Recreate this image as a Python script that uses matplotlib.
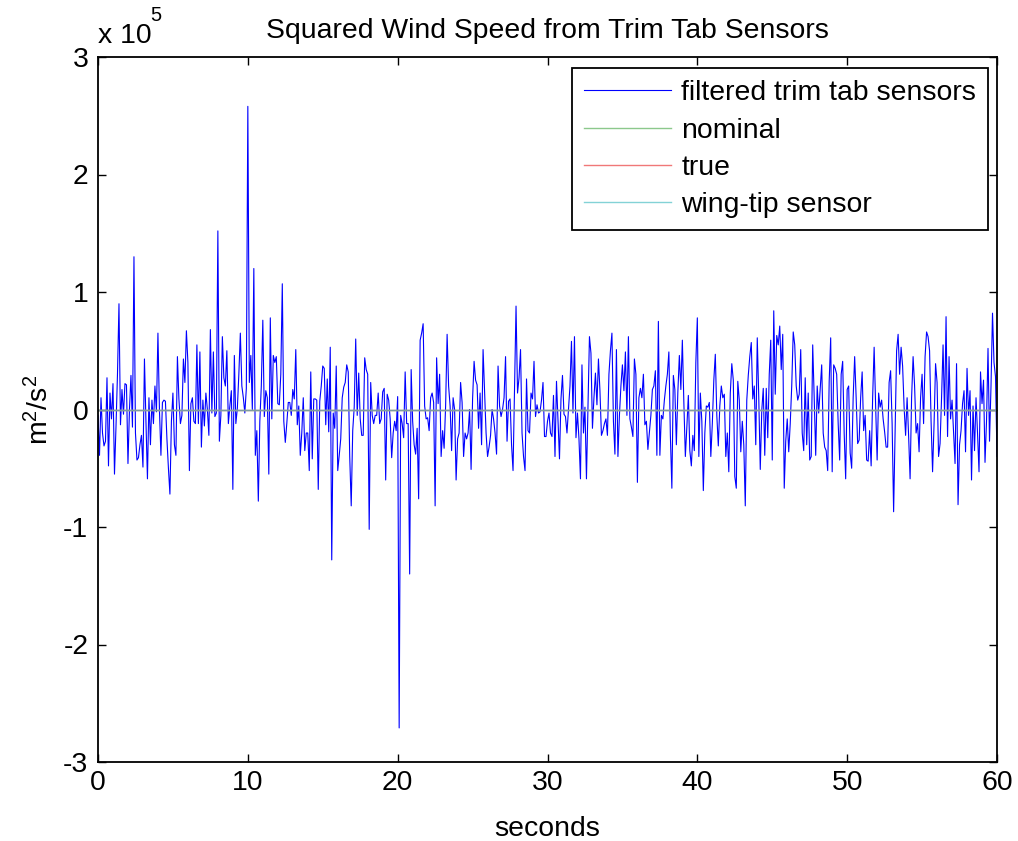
import numpy as np
import matplotlib
matplotlib.use("Agg")
import matplotlib.pyplot as plt
from matplotlib.ticker import FuncFormatter, FixedLocator

plt.rcParams['font.family'] = ['Liberation Sans', 'DejaVu Sans']
plt.rcParams['mathtext.fontset'] = 'custom'
plt.rcParams['mathtext.rm'] = 'Liberation Sans'
plt.rcParams['mathtext.it'] = 'Liberation Sans:italic'
plt.rcParams['axes.unicode_minus'] = False

# ---- data -------------------------------------------------------------
t_start, t_end = 0.0, 60.0

# filtered squared wind speed from the trim tab sensors,
# in thousands of m^2/s^2, sampled every 0.1 s from 0 to 60 s
filtered_k = [
    # 0 - 5.9 s
    -5, -39, 10, -20, -31, -27, 27, -48, 14, -8,
    22, -55, -15, 30, 90, -13, 17, -4, 22, 21,
    -46, 0, 29, -15, 130, -20, -43, -41, -30, -22,
    -49, 43, -10, -59, 10, -30, 8, -12, 20, -2,
    65, 0, -39, 6, 8, 7, -25, -50, -72, -10,
    14, -30, -39, 45, 9, -12, -5, 43, 23, 67,
    # 6 - 11.9 s
    40, -52, 5, 10, -10, -12, 55, -12, 49, -32,
    8, -14, 14, 0, -22, 68, -3, 49, -6, -3,
    152, -27, -5, 62, 27, 20, 50, -12, 3, 16,
    -68, 46, -12, 1, 30, 65, 20, 10, -3, 18,
    258, 23, 46, 0, 120, -39, -18, -78, -10, 20,
    76, -6, 16, 10, -55, 78, -8, 46, 40, 45,
    # 12 - 17.9 s
    5, 4, 30, 107, -10, -28, -12, 6, 6, -5,
    17, 9, 51, -13, 3, -39, -20, 10, -35, -20,
    -20, -52, 32, -42, 9, 9, 8, -68, 7, 20,
    37, 35, -13, 26, -19, 53, -128, -3, -16, 37,
    -52, -39, -25, 10, 19, 23, 38, 32, -40, -82,
    -18, 2, 60, -5, 31, -8, -22, -22, 44, 34,
    # 18 - 23.9 s
    30, -102, 23, -5, -12, -5, -5, 14, -12, -8,
    15, 18, -60, 13, 8, -8, -41, -20, -10, -18,
    11, -271, -5, -12, -24, 32, -12, -12, -140, 34,
    -10, -30, -38, -16, -76, 59, 65, 73, 3, -8,
    -7, -18, 10, 14, 6, -82, 44, 5, 30, -40,
    -18, -33, 3, 64, 20, 3, -35, 10, 0, -60,
    # 24 - 29.9 s
    -25, -20, 23, 6, -40, -20, -25, -20, 0, -51,
    9, 41, 25, 21, -16, 14, -30, 51, 15, -20,
    -40, -32, -22, 0, -8, -20, -38, 37, 3, -6,
    0, 10, 45, -27, 7, 9, -30, -52, 20, 88,
    14, 27, 51, -20, -40, -52, 26, -18, -20, 14,
    9, 41, -6, 4, -3, -2, 8, 23, -23, -23,
    # 30 - 35.9 s
    -10, -3, -20, -23, 12, -40, 24, -10, -42, 9,
    29, -4, -6, -20, 0, 20, 58, -3, 62, -24,
    -3, -25, -59, 38, -20, 2, -59, 0, 62, 48,
    -16, 10, 31, 4, 43, 16, -22, -18, -12, -8,
    -22, 30, 50, 65, -10, -38, 51, -40, -5, 20,
    38, 16, 49, -5, 62, -8, -15, -23, 43, 30,
    # 36 - 41.9 s
    -62, 10, 18, 10, 30, -13, -10, -34, -20, -5,
    17, 20, 33, -39, 75, -39, -5, -8, 8, 20,
    30, 49, -22, -67, 29, 17, -30, 15, 46, 17,
    59, 6, -40, -15, 12, -35, -48, -22, -35, 40,
    78, -40, 14, -10, -69, -20, 3, 2, 6, -40,
    -12, 25, 47, -5, -31, 3, 20, 10, 13, -40,
    # 42 - 47.9 s
    -20, -53, 14, 39, 25, -57, -67, 24, 8, -36,
    -10, -30, -82, 8, 29, 45, 57, 9, 20, -30,
    61, 10, -51, -1, 18, -39, 18, -24, 30, 59,
    -43, 84, 13, 63, 55, 71, 34, 64, -67, -27,
    -8, -36, -12, 20, 66, 55, 20, 8, 13, 51,
    -20, -35, 27, -30, 14, -43, -40, 55, 10, -39,
    # 48 - 53.9 s
    20, -3, 18, 38, -20, -32, -35, -52, 24, 61,
    -53, 38, 35, 30, -12, -43, 30, 41, -20, -59,
    17, 20, -37, -50, 10, 45, 10, -29, -26, 10,
    32, -18, -5, -43, -44, -18, -48, 10, 53, 3,
    -43, 14, 2, 8, -8, -19, -32, -32, 23, 33,
    -12, -87, -20, 50, 64, 30, 53, 37, 2, -22,
    # 54 - 60 s
    10, -22, -59, 10, 45, 20, -20, -12, -36, 10,
    30, -12, 45, 66, 62, 50, -10, -53, -12, 39,
    23, -40, -29, 10, 55, -5, 79, -23, 45, -8,
    8, -20, -46, 39, -81, -30, -18, 5, 16, -36,
    35, -5, 16, -60, 3, -35, 10, -20, -53, 32,
    5, 25, -45, -10, 52, -27, 20, 82, 40, 28, -40,
]

# reference signals (constant over the run)
ref_t = [0.0, 60.0]
nominal_k = [0.0, 0.0]
true_k = [0.0, 0.0]
wingtip_k = [0.0, 0.0]

x_ticks = [0, 10, 20, 30, 40, 50, 60]
y_ticks_e5 = [-3, -2, -1, 0, 1, 2, 3]

series_labels = ["filtered trim tab sensors", "nominal", "true", "wing-tip sensor"]
title_text = "Squared Wind Speed from Trim Tab Sensors"
x_label = "seconds"
y_label = r"$\mathrm{m^2/s^2}$"

# ---- figure -----------------------------------------------------------
FS = 20.4
fig = plt.figure(figsize=(10.18, 8.41), dpi=100)
fig.patch.set_facecolor("white")
ax = fig.add_axes([98 / 1018, 1 - 762 / 841, 899 / 1018, 705 / 841])

filtered = np.asarray(filtered_k, dtype=float) * 1e3
t = np.linspace(t_start, t_end, len(filtered))

ax.plot(t, filtered, color="#0000ff", lw=0.8, label=series_labels[0])
ax.plot(ref_t, np.asarray(nominal_k) * 1e3, color="#8cc88c", lw=1.0, label=series_labels[1])
ax.plot(ref_t, np.asarray(true_k) * 1e3, color="#f07878", lw=1.0, label=series_labels[2])
ax.plot(ref_t, np.asarray(wingtip_k) * 1e3, color="#30b4bc", lw=1.0, alpha=0.6,
        label=series_labels[3])

ax.set_xlim(t_start, t_end)
ax.set_ylim(-3e5, 3e5)
ax.xaxis.set_major_locator(FixedLocator(x_ticks))
ax.yaxis.set_major_locator(FixedLocator([v * 1e5 for v in y_ticks_e5]))
ax.yaxis.set_major_formatter(FuncFormatter(lambda v, p: f"{v / 1e5:g}"))

ax.tick_params(direction="in", length=6, width=1.0, top=True, right=True,
               labelsize=FS, colors="black")
ax.tick_params(axis="y", pad=7)
ax.tick_params(axis="x", pad=6)
for sp in ax.spines.values():
    sp.set_linewidth(1.3)
    sp.set_color("black")

ax.set_title(title_text, fontsize=FS, pad=13.5)
ax.set_xlabel(x_label, fontsize=FS, labelpad=14)
ax.set_ylabel(y_label, fontsize=FS, labelpad=6)

# exponent marker above the y axis
fig.text(98 / 1018, 1 - 43 / 841, "x 10", fontsize=FS, ha="left", va="baseline")
fig.text(150 / 1018, 1 - 21 / 841, "5", fontsize=14.5, ha="left", va="baseline")

leg = ax.legend(loc="upper right", bbox_to_anchor=(0.990, 0.984), borderaxespad=0,
                fontsize=FS, handlelength=3.07, handletextpad=0.35,
                labelspacing=0.4, borderpad=0.42, fancybox=False,
                framealpha=1, edgecolor="black")
leg.get_frame().set_linewidth(1.3)

fig.savefig("out.png", dpi=100, facecolor="white")
